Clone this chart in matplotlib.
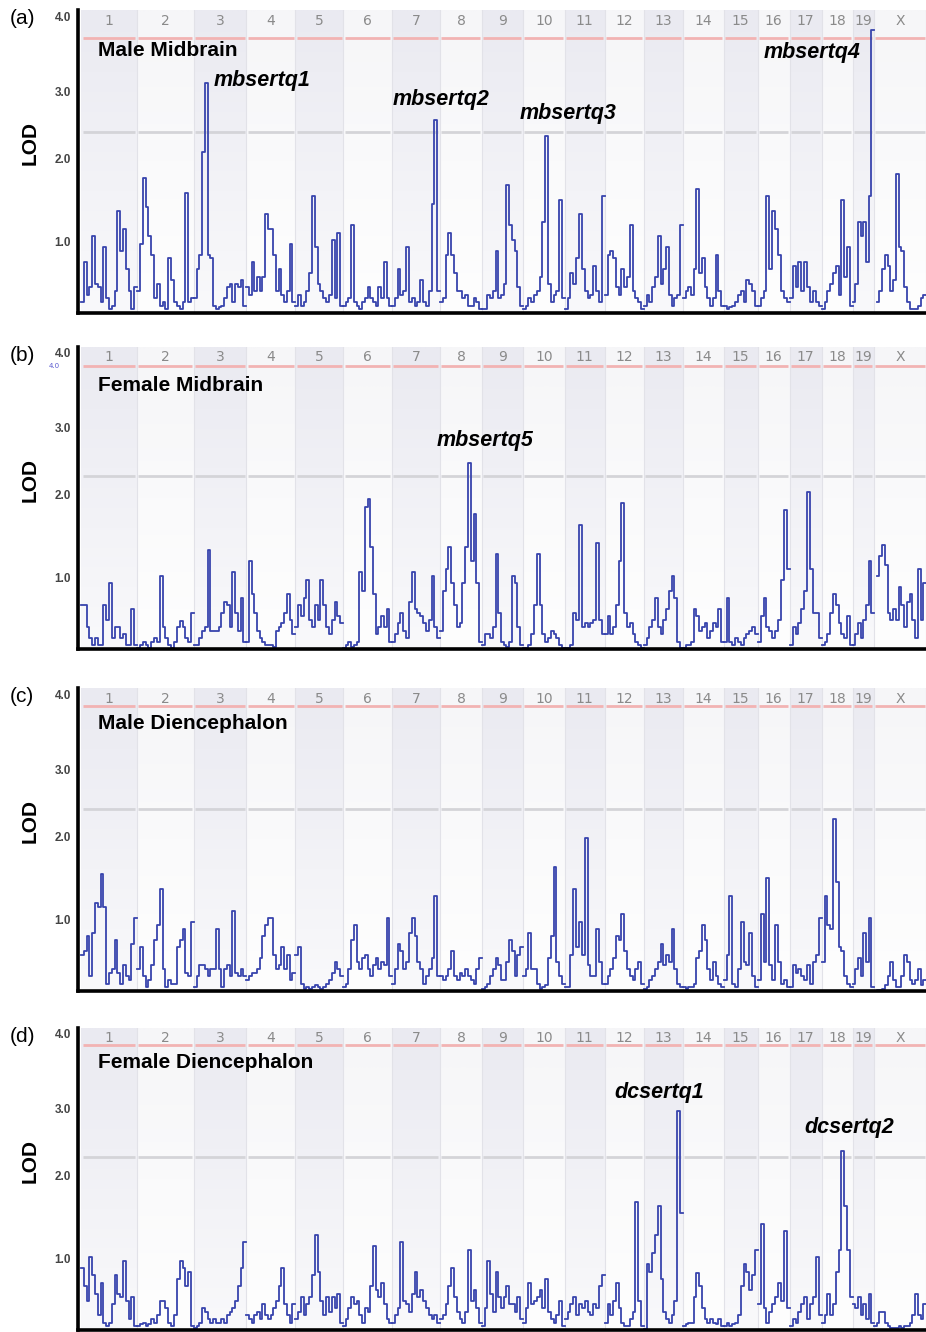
import numpy as np
import matplotlib
matplotlib.use("Agg")
import matplotlib.pyplot as plt
from matplotlib.colors import to_rgb

nan = float("nan")

chroms = ["1", "2", "3", "4", "5", "6", "7", "8", "9", "10",
          "11", "12", "13", "14", "15", "16", "17", "18", "19", "X"]
chrom_len = [175, 178, 163, 153, 150, 153, 150, 131, 128, 131,
             125, 122, 122, 128, 106, 100, 100, 97, 66, 163]

# LOD scans, one list per chromosome (evenly spaced markers along it)
male_midbrain = [
    [0.15, 0.7, 0.25, 0.35, 1.05, 0.4, 0.35, 0.15, 0.9, 0.2, 0.05, 0.1, 0.3, 1.4, 0.85, 1.15, 0.6, 0.3, 0.05, 0.35],
    [0.3, 0.95, 1.85, 1.45, 1.05, 0.8, 0.2, 0.4, 0.1, 0.15, 0.05, 0.75, 0.45, 0.15, 0.1, 0.05, 0.15, 1.65, 0.15, 0.2],
    [0.2, 0.6, 0.8, 2.2, 3.15, 0.8, 0.75, 0.1, 0.05, 0.08, 0.1, 0.2, 0.35, 0.4, 0.15, 0.4, 0.35, 0.45, 0.1],
    [0.35, 0.25, 0.7, 0.3, 0.5, 0.3, 0.5, 1.35, 1.15, 1.15, 0.8, 0.3, 0.6, 0.25, 0.15, 0.3, 0.95, 0.15],
    [0.1, 0.25, 0.1, 0.15, 0.3, 0.55, 1.6, 0.9, 0.4, 0.3, 0.2, 0.15, 0.25, 1.0, 0.2, 1.1, 0.1],
    [0.1, 0.15, 0.2, 1.2, 0.15, 0.1, 0.05, 0.15, 0.2, 0.35, 0.2, 0.15, 0.1, 0.35, 0.2, 0.7, 0.2, 0.1],
    [0.1, 0.2, 0.6, 0.25, 0.3, 0.9, 0.15, 0.2, 0.1, 0.15, 0.45, 0.15, 0.1, 0.3, 1.5, 2.65, 0.3],
    [0.15, 0.2, 0.8, 1.1, 0.8, 0.55, 0.3, 0.3, 0.2, 0.25, 0.1, 0.1, 0.2, 0.15, 0.05],
    [0.05, 0.05, 0.25, 0.2, 0.3, 0.85, 0.2, 0.25, 0.4, 1.75, 1.2, 1.0, 0.85, 0.35, 0.1],
    [0.05, 0.1, 0.2, 0.15, 0.25, 0.3, 0.5, 1.25, 2.42, 0.4, 0.15, 0.25, 0.3, 1.55, 0.2],
    [0.05, 0.2, 0.55, 0.4, 0.75, 1.35, 0.6, 0.3, 0.2, 0.25, 0.65, 0.3, 0.15, 1.6],
    [0.25, 0.8, 0.85, 0.75, 0.35, 0.25, 0.6, 0.35, 0.5, 1.2, 0.3, 0.2, 0.15, 0.05],
    [0.1, 0.25, 0.15, 0.35, 0.5, 1.05, 0.4, 0.6, 0.9, 0.25, 0.1, 0.2, 0.25, 1.2],
    [0.2, 0.3, 0.35, 0.25, 0.6, 1.7, 0.55, 0.75, 0.35, 0.2, 0.1, 0.2, 0.8, 0.3, 0.1],
    [0.1, 0.05, 0.08, 0.1, 0.15, 0.25, 0.3, 0.15, 0.45, 0.4, 0.3, 0.1],
    [0.1, 0.2, 0.3, 1.6, 0.6, 1.4, 1.15, 0.8, 0.3, 0.2, 0.15],
    [0.2, 0.65, 0.35, 0.7, 0.3, 0.7, 0.35, 0.15, 0.3, 0.15, 0.1],
    [0.05, 0.15, 0.3, 0.4, 0.55, 0.65, 0.25, 1.55, 0.5, 0.9, 0.1],
    [0.15, 0.4, 1.25, 1.05, 1.25, 0.7, 1.6, 3.88],
    [nan, 0.15, 0.3, 0.6, 0.8, 0.65, 0.3, 0.45, 1.9, 0.9, 0.85, 0.35, 0.15, 0.05, 0.05, 0.05, 0.1, 0.2, 0.25],
]

female_midbrain = [
    [0.6, 0.6, 0.3, 0.15, 0.05, 0.15, 0.05, 0.05, 0.6, 0.4, 0.9, 0.15, 0.3, 0.3, 0.15, 0.2, 0.05, 0.05, 0.55, 0.05],
    [0.02, 0.05, 0.1, 0.05, 0.02, 0.1, 0.15, 0.1, 1.0, 0.3, 0.15, 0.05, 0.02, 0.1, 0.3, 0.38, 0.3, 0.15, 0.1, 0.5],
    [0.05, 0.05, 0.15, 0.25, 0.3, 1.35, 0.25, 0.25, 0.25, 0.3, 0.5, 0.65, 0.6, 0.3, 1.05, 0.5, 0.25, 0.7, 0.1],
    [0.1, 1.2, 0.75, 0.5, 0.25, 0.15, 0.1, 0.05, 0.05, 0.05, 0.03, 0.25, 0.3, 0.35, 0.5, 0.75, 0.4, 0.2],
    [0.3, 0.6, 0.45, 0.7, 0.95, 0.4, 0.3, 0.6, 0.4, 0.95, 0.6, 0.3, 0.2, 0.4, 0.65, 0.45, 0.35],
    [0.02, 0.05, 0.1, 0.03, 0.05, 0.1, 1.05, 0.8, 1.95, 2.05, 1.4, 0.75, 0.2, 0.3, 0.45, 0.3, 0.55, 0.1],
    [0.1, 0.2, 0.35, 0.5, 0.25, 0.15, 0.65, 1.05, 0.55, 0.5, 0.45, 0.35, 0.25, 0.4, 1.0, 0.3, 0.15],
    [0.25, 0.8, 1.1, 1.4, 0.9, 0.6, 0.3, 0.35, 0.9, 1.4, 2.55, 1.2, 1.85, 0.9, 0.1],
    [0.05, 0.2, 0.2, 0.15, 0.3, 1.3, 0.5, 0.1, 0.05, 0.03, 0.1, 1.0, 0.9, 0.3, 0.05],
    [0.02, 0.02, 0.05, 0.2, 0.6, 1.3, 0.6, 0.2, 0.1, 0.15, 0.25, 0.2, 0.15, 0.05, 0.02],
    [0.02, 0.02, 0.05, 0.5, 0.4, 1.7, 0.3, 0.35, 0.3, 0.35, 0.4, 1.45, 0.4, 0.2],
    [0.2, 0.45, 0.2, 0.3, 0.6, 1.2, 2.0, 0.5, 0.3, 0.35, 0.2, 0.1, 0.05, 0.02],
    [0.05, 0.15, 0.3, 0.4, 0.7, 0.3, 0.2, 0.4, 0.55, 0.8, 1.0, 0.7, 0.1, 0.02],
    [0.02, 0.05, 0.05, 0.1, 0.55, 0.45, 0.25, 0.3, 0.35, 0.15, 0.25, 0.35, 0.3, 0.55, 0.1],
    [0.1, 0.7, 0.1, 0.05, 0.15, 0.1, 0.05, 0.15, 0.2, 0.25, 0.3, 0.2],
    [0.1, 0.45, 0.7, 0.3, 0.25, 0.15, 0.25, 0.4, 0.95, 1.9, 1.1],
    [0.05, 0.3, 0.2, 0.35, 0.55, 0.8, 2.15, 1.1, 0.5, 0.5, 0.15],
    [0.05, 0.1, 0.2, 0.5, 0.75, 0.6, 0.35, 0.2, 0.15, 0.45, 0.05],
    [0.05, 0.2, 0.35, 0.15, 0.4, 0.6, 1.2, 0.5],
    [nan, 1.0, 1.28, 1.42, 1.15, 0.5, 0.4, 0.55, 0.4, 0.85, 0.6, 0.3, 0.65, 0.75, 0.4, 0.15, 1.1, 0.4, 0.9],
]

male_dienceph = [
    [0.5, 0.55, 0.75, 0.2, 0.8, 1.2, 1.15, 1.6, 1.15, 0.1, 0.25, 0.3, 0.7, 0.25, 0.1, 0.35, 0.2, 0.15, 0.65, 1.0],
    [0.3, 0.6, 0.2, 0.05, 0.15, 0.35, 0.7, 0.9, 1.4, 0.3, 0.05, 0.15, 0.1, 0.1, 0.6, 0.7, 0.85, 0.25, 0.2, 0.95],
    [0.05, 0.2, 0.35, 0.35, 0.3, 0.2, 0.3, 0.3, 0.85, 0.3, 0.05, 0.3, 0.35, 0.2, 1.1, 0.25, 0.2, 0.3, 0.2],
    [0.15, 0.2, 0.25, 0.25, 0.3, 0.45, 0.75, 0.9, 1.0, 1.0, 0.5, 0.3, 0.35, 0.6, 0.3, 0.5, 0.15, 0.25],
    [0.5, 0.6, 0.1, 0.03, 0.05, 0.03, 0.05, 0.08, 0.05, 0.03, 0.05, 0.1, 0.15, 0.25, 0.4, 0.3, 0.2],
    [0.05, 0.1, 0.3, 0.7, 0.9, 0.4, 0.3, 0.45, 0.5, 0.3, 0.2, 0.35, 0.45, 0.3, 0.4, 0.35, 1.0, 0.2],
    [0.1, 0.3, 0.65, 0.55, 0.3, 0.4, 0.8, 1.0, 0.75, 0.4, 0.3, 0.1, 0.2, 0.3, 0.45, 1.3, 0.2],
    [0.2, 0.15, 0.2, 0.3, 0.55, 0.2, 0.15, 0.25, 0.2, 0.3, 0.2, 0.15, 0.1, 0.3, 0.45],
    [0.03, 0.05, 0.1, 0.2, 0.3, 0.45, 0.35, 0.15, 0.15, 0.4, 0.7, 0.55, 0.2, 0.5, 0.6],
    [0.2, 0.3, 0.8, 0.3, 0.3, 0.1, 0.03, 0.05, 0.08, 0.45, 0.75, 1.7, 0.4, 0.2, 0.1],
    [0.05, 0.05, 0.5, 1.4, 0.6, 0.95, 0.5, 2.1, 0.35, 0.2, 0.2, 0.85, 0.4, 0.1],
    [0.1, 0.2, 0.3, 0.45, 0.75, 0.7, 1.05, 0.55, 0.3, 0.2, 0.15, 0.3, 0.4, 0.1],
    [0.03, 0.05, 0.15, 0.2, 0.3, 0.4, 0.65, 0.35, 0.5, 0.4, 0.85, 0.3, 0.1, 0.05],
    [0.05, 0.03, 0.05, 0.05, 0.1, 0.45, 0.55, 0.9, 0.7, 0.3, 0.15, 0.4, 0.2, 0.1, 0.05],
    [0.15, 0.5, 1.3, 0.1, 0.05, 0.3, 0.95, 0.4, 0.35, 0.8, 0.2, 0.05],
    [0.15, 1.05, 0.4, 1.55, 0.35, 0.15, 0.9, 0.4, 0.1, 0.15, 0.05],
    [0.05, 0.35, 0.25, 0.3, 0.2, 0.15, 0.35, 0.1, 0.4, 0.5, 1.0],
    [0.4, 1.3, 0.9, 0.85, 2.35, 1.5, 0.6, 0.55, 0.2, 0.1, 0.05],
    [0.1, 0.3, 0.45, 0.2, 0.8, 0.4, 1.0, 0.05],
    [0.0, 0.01, 0.02, 0.03, 0.08, 0.2, 0.4, 0.15, 0.05, 0.05, 0.2, 0.5, 0.4, 0.15, 0.1, 0.15, 0.3, 0.08, 0.15],
]

female_dienceph = [
    [0.85, 0.6, 0.4, 1.0, 0.75, 0.5, 0.2, 0.65, 0.1, 0.05, 0.1, 0.35, 0.75, 0.5, 0.45, 0.95, 0.4, 0.15, 0.45, 0.05],
    [0.05, 0.08, 0.1, 0.05, 0.08, 0.15, 0.1, 0.2, 0.4, 0.4, 0.3, 0.1, 0.05, 0.2, 0.7, 0.95, 0.85, 0.6, 0.8, 0.05],
    [0.03, 0.05, 0.1, 0.3, 0.25, 0.15, 0.1, 0.15, 0.1, 0.1, 0.15, 0.1, 0.2, 0.25, 0.3, 0.4, 0.6, 0.85, 1.2],
    [0.2, 0.15, 0.1, 0.2, 0.25, 0.15, 0.35, 0.2, 0.15, 0.2, 0.3, 0.4, 0.6, 0.85, 0.35, 0.2, 0.1, 0.35],
    [0.15, 0.25, 0.45, 0.2, 0.35, 0.45, 0.75, 1.3, 0.8, 0.4, 0.2, 0.45, 0.25, 0.45, 0.3, 0.5, 0.1],
    [0.05, 0.15, 0.3, 0.45, 0.35, 0.4, 0.2, 0.1, 0.3, 0.25, 0.6, 1.15, 0.55, 0.45, 0.65, 0.35, 0.15, 0.1],
    [0.1, 0.2, 0.3, 1.2, 0.4, 0.35, 0.25, 0.5, 0.8, 0.45, 0.55, 0.4, 0.3, 0.2, 0.15, 0.2, 0.1],
    [0.15, 0.2, 0.35, 0.6, 0.85, 0.45, 0.25, 0.15, 0.1, 0.25, 1.1, 0.4, 0.55, 0.3, 0.1],
    [0.05, 0.3, 0.95, 0.5, 0.25, 0.8, 0.45, 0.3, 0.45, 0.6, 0.35, 0.35, 0.25, 0.45, 0.15],
    [0.1, 0.3, 0.65, 0.35, 0.4, 0.45, 0.55, 0.3, 0.7, 0.25, 0.15, 0.1, 0.2, 0.4, 0.05],
    [0.15, 0.25, 0.35, 0.45, 0.2, 0.35, 0.3, 0.4, 0.25, 0.2, 0.35, 0.3, 0.6, 0.75],
    [0.1, 0.35, 0.2, 0.4, 0.65, 0.3, 0.1, 0.05, 0.05, 0.15, 0.25, 1.75, 0.4, 0.05],
    [0.02, 0.9, 0.8, 1.05, 1.3, 1.7, 0.7, 0.25, 0.15, 0.1, 0.2, 0.4, 3.0, 1.6],
    [0.05, 0.08, 0.1, 0.1, 0.45, 0.78, 0.6, 0.3, 0.15, 0.1, 0.15, 0.1, 0.08, 0.15, 0.05],
    [0.05, 0.1, 0.05, 0.08, 0.1, 0.2, 0.6, 0.9, 0.8, 0.55, 0.75, 1.1],
    [0.35, 1.45, 0.3, 0.1, 0.25, 0.35, 0.45, 0.65, 0.4, 1.35, 0.3],
    [0.05, 0.15, 0.1, 0.25, 0.35, 0.45, 0.15, 0.35, 0.45, 1.0, 0.2],
    [0.1, 0.2, 0.5, 0.2, 0.35, 0.8, 1.1, 2.45, 1.7, 1.1, 0.45],
    [0.35, 0.3, 0.45, 0.2, 0.35, 0.15, 0.5, 0.1],
    [0.05, 0.1, 0.25, 0.25, 0.1, 0.05, 0.03, 0.03, 0.03, 0.05, 0.03, 0.05, 0.05, 0.1, 0.2, 0.5, 0.2, 0.15, 0.35],
]

panel_letters = ["(a)", "(b)", "(c)", "(d)"]
panel_titles = ["Male Midbrain", "Female Midbrain", "Male Diencephalon", "Female Diencephalon"]
panel_scans = [male_midbrain, female_midbrain, male_dienceph, female_dienceph]
significant = [3.77, 3.88, 3.91, 3.91]
suggestive = [2.48, 2.37, 2.49, 2.37]

# QTL names and where they sit (axes fraction)
qtl_labels = [
    [("mbsertq1", 0.217, 0.766), ("mbsertq2", 0.428, 0.703),
     ("mbsertq3", 0.578, 0.660), ("mbsertq4", 0.866, 0.859)],
    [("mbsertq5", 0.480, 0.692)],
    [],
    [("dcsertq1", 0.685, 0.785), ("dcsertq2", 0.909, 0.669)],
]

tick_pos = [0.98, 2.12, 3.04, 4.06]
tick_lab = ["1.0", "2.0", "3.0", "4.0"]

# panel geometry in pixels: (top of bands, baseline)
panel_px = [(10, 313), (347, 649), (688, 991), (1028, 1330)]
W, H = 926, 1332
PX_PER_LOD = 73.0

line_col = "#3844ad"
sans = ["Liberation Sans", "DejaVu Sans"]


def band(ax, x0, x1, y1, top, bottom):
    """Vertical gradient rectangle for one chromosome band"""
    c0 = np.array(to_rgb(top))
    c1 = np.array(to_rgb(bottom))
    t = np.linspace(0, 1, 64)[:, None]
    img = (c0 * (1 - t) + c1 * t)[:, None, :]
    ax.imshow(img, extent=(x0, x1, 0, y1), origin="upper", aspect="auto",
              zorder=0, interpolation="bilinear")


fig = plt.figure(figsize=(W / 100, H / 100), dpi=100)

starts = np.concatenate([[0], np.cumsum(chrom_len)[:-1]])
ends = np.cumsum(chrom_len)
scale = 845.0 / ends[-1]          # px per Mb
xmin = -3.0 / scale

for p in range(4):
    top, base = panel_px[p]
    ytop = (base - top) / PX_PER_LOD
    ax = fig.add_axes([78 / W, (H - base) / H, (W - 78) / W, (base - top) / H])

    gap = 1.5 / scale
    for i, name in enumerate(chroms):
        s, e = starts[i], ends[i]
        if i % 2 == 0:
            band(ax, s, e, ytop, "#eaeaf1", "#f9f9fb")
        else:
            band(ax, s, e, ytop, "#f6f6f8", "#fefefe")
        ax.axvline(e, color="#e2e2e8", lw=0.8, zorder=0.5)
        ax.plot([s + gap, e - gap], [significant[p]] * 2, color="#f2b3b3",
                lw=2.0, zorder=1, solid_capstyle="butt")
        ax.plot([s + gap, e - gap], [suggestive[p]] * 2, color="#d4d4d8",
                lw=2.0, zorder=1, solid_capstyle="butt")
        ax.text((s + e) / 2, 4.0, name, ha="center", va="center",
                fontsize=10, color="#8a8a8a", zorder=3)

        # the scan itself, stepped between markers
        vals = panel_scans[p][i]
        n = len(vals)
        xs = s + np.arange(n + 1) * (e - s) / n
        ys = list(vals) + [vals[-1]]
        ax.plot(xs, ys, drawstyle="steps-post", color=line_col, lw=1.3,
                zorder=2)
    ax.set_xlim(xmin, ends[-1])
    ax.set_ylim(0, ytop)

    for side in ("top", "right"):
        ax.spines[side].set_visible(False)
    ax.spines["left"].set_linewidth(2.6)
    ax.spines["bottom"].set_linewidth(2.6)
    ax.spines["left"].set_zorder(4)
    ax.spines["bottom"].set_zorder(4)
    ax.set_xticks([])
    ax.set_yticks(tick_pos)
    ax.set_yticklabels(tick_lab, fontsize=8.5, fontweight="bold",
                       color="#444444", family=sans)
    ax.tick_params(axis="y", length=0, pad=5)

    ax.text(-0.057, 0.56, "LOD", transform=ax.transAxes, rotation=90,
            ha="center", va="center", fontsize=15, fontweight="bold",
            family=sans)
    ax.text(-0.081, 0.972, panel_letters[p], transform=ax.transAxes,
            ha="left", va="center", fontsize=15, family=sans)
    ax.text(0.024, [0.865, 0.874, 0.884, 0.887][p], panel_titles[p],
            transform=ax.transAxes, ha="left", va="center", fontsize=15,
            fontweight="bold", family=sans, zorder=3)
    for lab, fx, fy in qtl_labels[p]:
        ax.text(fx, fy, lab, transform=ax.transAxes, ha="center",
                va="center", fontsize=15.5, fontweight="bold",
                style="italic", family=sans, zorder=3)
    if p == 1:
        # stray small axis label left in the original figure
        ax.text(-0.021, 3.88, "4.0", ha="right", va="center", fontsize=5,
                color="#5b5bd0", transform=ax.get_yaxis_transform())

fig.savefig("out.png", dpi=100)
